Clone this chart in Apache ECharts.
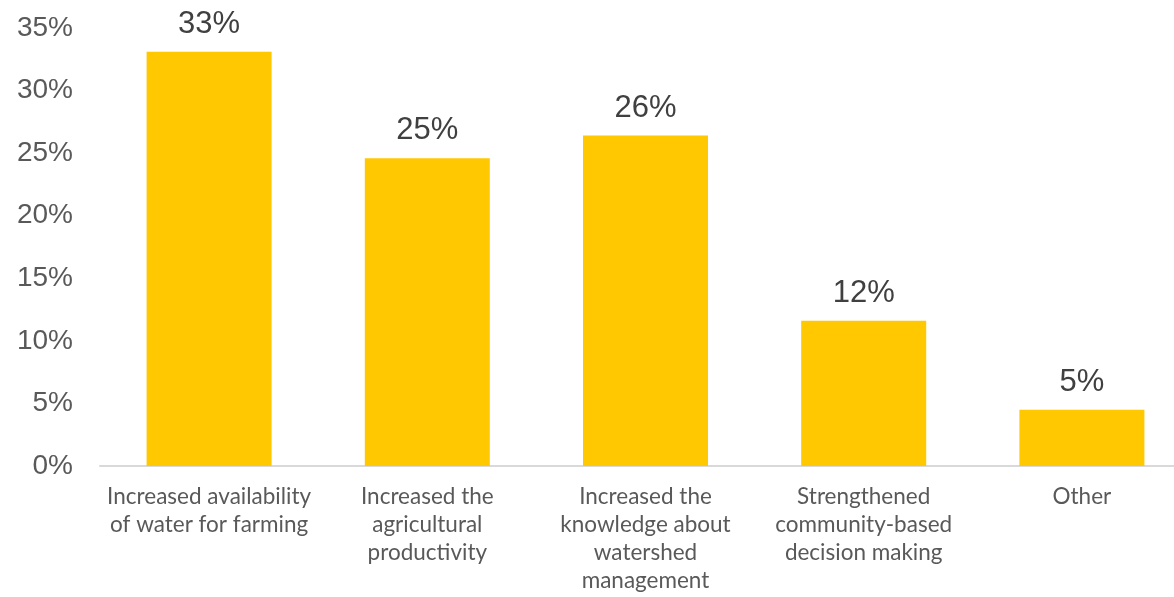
<!DOCTYPE html>
<html>
<head>
<meta charset="utf-8">
<script src="https://cdn.jsdelivr.net/npm/echarts@6/dist/echarts.min.js"></script>
<style>
  html, body { margin: 0; padding: 0; background: #ffffff; }
  #chart { width: 1174px; height: 597px; }
</style>
</head>
<body>
<div id="chart"></div>
<script>
// Survey result: reported benefits, share of respondents (%)
const categories = [
  'Increased availability\nof water for farming',
  'Increased the\nagricultural\nproductivity',
  'Increased the\nknowledge about\nwatershed\nmanagement',
  'Strengthened\ncommunity-based\ndecision making',
  'Other'
];
const shares = [33.1, 24.6, 26.4, 11.6, 4.5];
const yTicks = { min: 0, max: 35, step: 5 };

const chart = echarts.init(document.getElementById('chart'));
chart.setOption({
  animation: false,
  grid: { left: 100, top: 28, width: 1091, bottom: 131, outerBoundsMode: 'none', containLabel: false },
  xAxis: {
    type: 'category',
    data: categories,
    axisLine: { lineStyle: { color: '#d9d9d9', width: 2 } },
    axisTick: { show: false },
    axisLabel: {
      interval: 0,
      margin: 17,
      color: '#595959',
      fontFamily: 'Lato',
      fontSize: 22.5,
      lineHeight: 28
    }
  },
  yAxis: {
    type: 'value',
    min: yTicks.min,
    max: yTicks.max,
    interval: yTicks.step,
    axisLine: { show: false },
    axisTick: { show: false },
    splitLine: { show: false },
    axisLabel: {
      margin: 27,
      color: '#595959',
      fontFamily: 'Liberation Sans',
      fontSize: 28,
      formatter: '{value}%'
    }
  },
  series: [{
    type: 'bar',
    data: shares,
    barWidth: 125,
    itemStyle: { color: '#FFC800' },
    label: {
      show: true,
      position: 'top',
      distance: 12,
      color: '#404040',
      fontFamily: 'Liberation Sans',
      fontSize: 31,
      formatter: p => Math.round(p.value) + '%'
    }
  }]
});
</script>
</body>
</html>
